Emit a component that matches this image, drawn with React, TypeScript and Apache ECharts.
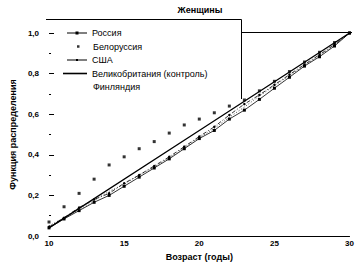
import React, { useEffect, useRef } from "react";
import * as echarts from "echarts";

const ages = [10, 11, 12, 13, 14, 15, 16, 17, 18, 19, 20, 21, 22, 23, 24, 25, 26, 27, 28, 29, 30];
const russia = [0.04, 0.084, 0.125, 0.166, 0.2, 0.245, 0.29, 0.335, 0.38, 0.43, 0.48, 0.52, 0.576, 0.62, 0.673, 0.728, 0.782, 0.837, 0.883, 0.936, 1.0];
const belarus = [0.069, 0.144, 0.21, 0.28, 0.35, 0.39, 0.43, 0.465, 0.507, 0.547, 0.576, 0.607, 0.64, 0.67, 0.715, 0.762, 0.81, 0.857, 0.905, 0.953, 1.0];
const usa = [0.045, 0.09, 0.14, 0.18, 0.21, 0.26, 0.3, 0.345, 0.39, 0.44, 0.49, 0.538, 0.596, 0.65, 0.695, 0.745, 0.795, 0.845, 0.893, 0.944, 1.0];
const ukAges = [10, 20, 30];
const uk = [0.04, 0.52, 1.0];
const finland = [0.05, 0.09, 0.13, 0.175, 0.22, 0.255, 0.3, 0.34, 0.385, 0.435, 0.485, 0.53, 0.585, 0.635, 0.69, 0.74, 0.79, 0.84, 0.89, 0.94, 1.0];

const names = ["Россия", "Белоруссия", "США", "Великобритания (контроль)", "Финляндия"];
const FONT = "'Liberation Sans', Arial, sans-serif";

const pair = (xs: number[], ys: number[]) => xs.map((x, i) => [x, ys[i]]);

const legendText = { fontFamily: FONT, fontSize: 9, color: "#000", lineHeight: 9 };

function oneLegend(name: string, left: number, centerY: number, icon: string, w: number, h: number, extra: any = {}) {
  const ih = Math.max(h, 9);
  return {
    orient: "vertical",
    left,
    top: centerY - ih / 2,
    padding: 0,
    itemWidth: w,
    itemHeight: h,
    icon,
    symbolKeepAspect: false,
    selectedMode: false,
    textStyle: { ...legendText, ...(extra.textStyle || {}) },
    data: [{ name, icon, itemStyle: { color: "#000", borderWidth: 0, ...(extra.itemStyle || {}) } }],
  };
}

export default function App() {
  const ref = useRef<HTMLDivElement>(null);
  useEffect(() => {
    if (!ref.current) return;
    const chart = echarts.init(ref.current, undefined, { renderer: "svg" });
    chart.setOption({
      animation: false,
      backgroundColor: "#fff",
      title: {
        text: "Женщины",
        left: 195,
        top: 0,
        textAlign: "center",
        textStyle: { fontFamily: FONT, fontSize: 9, fontWeight: "bold", color: "#000" },
      },
      grid: { left: 40, right: 5, top: 33, bottom: 32 },
      legend: [
        oneLegend(names[0], 67, 33, "path://M0,1.1H20V1.9H0Z M8.5,0H11.5V3H8.5Z", 20, 3),
        oneLegend(names[1], 77, 46.5, "rect", 2.5, 2.5, { textStyle: { padding: [0, 0, 0, 8.5] } }),
        oneLegend(names[2], 67, 60, "path://M0,0.6H20V1.4H0Z M9,0H11V2H9Z", 20, 2),
        oneLegend(names[3], 63, 73.5, "rect", 24, 1.6),
        oneLegend(names[4], 87, 87, "rect", 1, 1, { itemStyle: { opacity: 0 } }),
      ],
      graphic: [
        { type: "polyline", shape: { points: [[46, 19.5], [241.5, 19.5], [241.5, 99]] }, style: { stroke: "#000", lineWidth: 1, fill: "none" }, silent: true },
        { type: "line", shape: { x1: 241.5, y1: 32.5, x2: 352, y2: 32.5 }, style: { stroke: "#000", lineWidth: 1 }, silent: true },
      ],
      xAxis: {
        type: "value",
        min: 10,
        max: 30,
        interval: 5,
        axisLine: { show: true, lineStyle: { color: "#000", width: 1 } },
        axisTick: { show: false },
        splitLine: { show: false },
        axisLabel: { fontFamily: FONT, fontSize: 8, fontWeight: "bold", color: "#000", margin: 3 },
        name: "Возраст (годы)",
        nameLocation: "middle",
        nameGap: 16,
        nameTextStyle: { fontFamily: FONT, fontSize: 9, fontWeight: "bold", color: "#000" },
      },
      yAxis: {
        type: "value",
        min: 0,
        max: 1,
        interval: 0.2,
        axisLine: { show: false },
        axisTick: { show: true, inside: true, length: 5, lineStyle: { color: "#000" } },
        minorTick: { show: true, splitNumber: 2, length: 2, lineStyle: { color: "#000" } },
        splitLine: { show: false },
        axisLabel: {
          fontFamily: FONT,
          fontSize: 8,
          fontWeight: "bold",
          color: "#000",
          margin: 10,
          formatter: (v: number) => v.toFixed(1).replace(".", ","),
        },
        name: "Функция распределения",
        nameLocation: "middle",
        nameGap: 31,
        nameRotate: 90,
        nameTextStyle: { fontFamily: FONT, fontSize: 9, fontWeight: "bold", color: "#000" },
      },
      series: [
        {
          name: names[0],
          type: "line",
          data: pair(ages, russia),
          symbol: "rect",
          symbolSize: 3,
          itemStyle: { color: "#000" },
          lineStyle: { color: "#000", width: 0.8 },
          z: 3,
        },
        {
          name: names[1],
          type: "scatter",
          data: pair(ages, belarus),
          symbol: "rect",
          symbolSize: 3,
          itemStyle: { color: "#000" },
        },
        {
          name: names[2],
          type: "line",
          data: pair(ages, usa),
          symbol: "circle",
          symbolSize: 2.5,
          itemStyle: { color: "#000" },
          lineStyle: { color: "#000", width: 0.8, type: [4, 2, 1, 2] },
        },
        {
          name: names[3],
          type: "line",
          data: pair(ukAges, uk),
          symbol: "none",
          lineStyle: { color: "#000", width: 1.3 },
        },
        {
          name: names[4],
          type: "line",
          data: pair(ages, finland),
          symbol: "none",
          lineStyle: { color: "#000", width: 0.7, type: [1, 2] },
        },
      ],
    });
    return () => chart.dispose();
  }, []);
  return <div ref={ref} style={{ width: 357, height: 268, position: "absolute", left: 0, top: 0 }} />;
}
